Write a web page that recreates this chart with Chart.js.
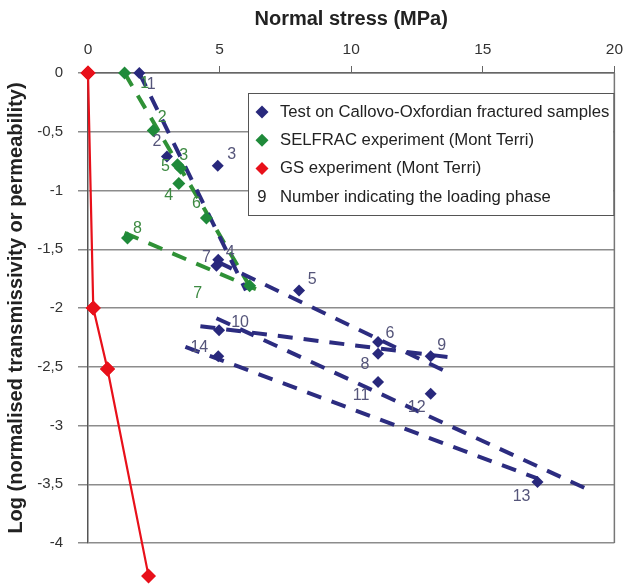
<!DOCTYPE html>
<html>
<head>
<meta charset="utf-8">
<script src="https://cdn.jsdelivr.net/npm/chart.js@4.4.1/dist/chart.umd.min.js"></script>
<style>
  html, body { margin: 0; padding: 0; background: #fff; }
  #wrap { width: 630px; height: 585px; }
</style>
</head>
<body>
<div id="wrap"><canvas id="stressChart" width="630" height="585"></canvas></div>
<script>
// Normal stress (MPa) vs log of normalised transmissivity / permeability

// Callovo-Oxfordian fractured samples
const bluePhases = ['1', '2', '3', '4', '7', '5', '6', '8', '9', '10', '11', '12', '13', '14'];
const blueStress = [1.95, 3.0, 4.93, 4.95, 4.88, 8.02, 11.02, 11.02, 13.02, 4.98, 11.02, 13.02, 17.08, 4.95];
const blueLogK = [0, -0.71, -0.79, -1.59, -1.64, -1.85, -2.29, -2.39, -2.41, -2.19, -2.63, -2.73, -3.48, -2.41];

// SELFRAC experiment (Mont Terri)
const greenPhases = ['1', '2', '3', '5', '4', '6', '8', '7'];
const greenStress = [1.39, 2.48, 3.52, 3.4, 3.45, 4.5, 1.5, 6.14];
const greenLogK = [0, -0.49, -0.81, -0.78, -0.94, -1.235, -1.405, -1.81];

// GS experiment (Mont Terri)
const redStress = [0, 0.2, 0.74, 2.3];
const redLogK = [0, -2, -2.52, -4.28];

// dashed trends per loading phase: [start, end] as [stress, logK]
const blueTrends = [
  [[1.95, 0], [6.0, -1.85]],
  [[4.95, -1.61], [13.5, -2.53]],
  [[4.27, -2.155], [13.77, -2.42]],
  [[4.88, -2.087], [18.95, -3.54]],
  [[3.7, -2.33], [17.07, -3.45]]
];
const greenTrends = [
  [[1.39, 0], [6.34, -1.89]],
  [[1.39, -1.36], [6.38, -1.84]]
];

const xTicks = [0, 5, 10, 15, 20];

// label offsets in px, same order as the phase arrays
const blueLabelOffsets = [[12, 12], [-10, -15], [14, -11], [12, -7], [-10, -8], [13, -11], [12, -8],
  [-13, 11], [11, -11], [21, -8], [-17, 14], [-14, 14], [-16, 15], [-19, -9]];
const greenLabelOffsets = [[20, 11], [9, -13], [3, -13], [-12, 2], [-10, 12], [-10, -15], [10, -9], [-52, 8]];

const BLUE = '#28287c';
const GREEN = '#1f8a3a';
const RED = '#e8101a';
const FONT = '"Liberation Sans", Arial, sans-serif';

const toPoints = (xs, ys) => xs.map((x, i) => ({ x: x, y: ys[i] }));

function trendDataset(seg, color) {
  return {
    data: seg.map(p => ({ x: p[0], y: p[1] })),
    showLine: true,
    borderColor: color,
    borderWidth: 4,
    borderDash: [15, 11],
    borderCapStyle: 'butt',
    pointRadius: 0,
    clip: false,
    order: 5
  };
}

// number labels next to each point; also points that fall below the axis range
const phaseLabels = {
  id: 'phaseLabels',
  afterDatasetsDraw(chart) {
    const ctx = chart.ctx;
    const whole = { left: 0, top: 0, right: chart.width, bottom: chart.height };
    chart.data.datasets.forEach((ds, i) => {
      const meta = chart.getDatasetMeta(i);
      if (ds.overflowPoints) {
        meta.data.forEach(pt => pt.draw(ctx, whole));
      }
      if (!ds.phases) return;
      ctx.save();
      ctx.font = '16px ' + FONT;
      ctx.fillStyle = ds.labelColor;
      ctx.textAlign = 'center';
      ctx.textBaseline = 'middle';
      meta.data.forEach((pt, j) => {
        const off = ds.labelOffsets[j];
        ctx.fillText(ds.phases[j], pt.x + off[0], pt.y + off[1]);
      });
      ctx.restore();
    });
  }
};

function diamond(ctx, x, y, r, color) {
  ctx.beginPath();
  ctx.moveTo(x, y - r);
  ctx.lineTo(x + r, y);
  ctx.lineTo(x, y + r);
  ctx.lineTo(x - r, y);
  ctx.closePath();
  ctx.fillStyle = color;
  ctx.fill();
}

// boxed legend inside the plot + right frame line
const boxLegend = {
  id: 'boxLegend',
  afterDraw(chart) {
    const ctx = chart.ctx;
    const a = chart.chartArea;
    ctx.save();
    ctx.strokeStyle = '#777';
    ctx.lineWidth = 1.5;
    ctx.beginPath();
    ctx.moveTo(a.right, a.top);
    ctx.lineTo(a.right, a.bottom);
    ctx.stroke();

    const left = a.left + 160, top = a.top + 20;
    const w = a.right - left - 1, h = 122;
    ctx.fillStyle = '#fff';
    ctx.fillRect(left, top, w, h);
    ctx.strokeStyle = '#555';
    ctx.lineWidth = 1;
    ctx.strokeRect(left + 0.5, top + 0.5, w, h);

    const items = [
      { color: BLUE, text: 'Test on Callovo-Oxfordian fractured samples' },
      { color: GREEN, text: 'SELFRAC experiment (Mont Terri)' },
      { color: RED, text: 'GS experiment (Mont Terri)' },
      { glyph: '9', text: 'Number indicating the loading phase' }
    ];
    ctx.font = '16.7px ' + FONT;
    ctx.textBaseline = 'middle';
    items.forEach((it, i) => {
      const y = top + 19 + i * 28.3;
      const mx = left + 14;
      if (it.glyph) {
        ctx.fillStyle = '#222';
        ctx.textAlign = 'center';
        ctx.fillText(it.glyph, mx, y);
      } else {
        diamond(ctx, mx, y, 6.5, it.color);
      }
      ctx.fillStyle = '#222';
      ctx.textAlign = 'left';
      ctx.fillText(it.text, left + 32, y);
    });
    ctx.restore();
  }
};

const datasets = [
  {
    data: toPoints(greenStress, greenLogK),
    showLine: false,
    pointStyle: 'rectRot',
    pointRadius: 6.5,
    backgroundColor: GREEN,
    borderColor: GREEN,
    borderWidth: 0,
    clip: false,
    order: 0,
    phases: greenPhases,
    labelOffsets: greenLabelOffsets,
    labelColor: '#3d8a42'
  },
  {
    data: toPoints(blueStress, blueLogK),
    showLine: false,
    pointStyle: 'rectRot',
    pointRadius: 6,
    backgroundColor: BLUE,
    borderColor: BLUE,
    borderWidth: 0,
    clip: false,
    order: 1,
    phases: bluePhases,
    labelOffsets: blueLabelOffsets,
    labelColor: '#55557a'
  },
  {
    data: toPoints(redStress, redLogK),
    showLine: true,
    borderColor: RED,
    borderWidth: 2.2,
    pointStyle: 'rectRot',
    pointRadius: 7.5,
    pointBackgroundColor: RED,
    pointBorderColor: RED,
    pointBorderWidth: 0,
    clip: false,
    order: 2,
    overflowPoints: true
  }
];
blueTrends.forEach(seg => datasets.push(trendDataset(seg, '#2c2c80')));
greenTrends.forEach(seg => datasets.push(trendDataset(seg, '#2f9136')));

new Chart(document.getElementById('stressChart'), {
  type: 'scatter',
  data: { datasets: datasets },
  options: {
    responsive: false,
    animation: false,
    layout: { padding: { right: 9, bottom: 42 } },
    plugins: {
      legend: { display: false },
      tooltip: { enabled: false }
    },
    scales: {
      x: {
        type: 'linear',
        position: 'top',
        min: 0,
        max: 20,
        afterFit: s => { s.height = 73; },
        afterBuildTicks: s => { s.ticks = xTicks.map(v => ({ value: v })); },
        ticks: { color: '#333', font: { family: FONT, size: 15.5 }, padding: 7 },
        grid: { drawOnChartArea: false, drawTicks: true, tickLength: 7, color: '#666' },
        border: { display: true, color: '#666', width: 1.5 },
        title: {
          display: true,
          text: 'Normal stress (MPa)',
          color: '#222',
          font: { family: FONT, size: 20, weight: 'bold' },
          padding: { top: 7, bottom: 0 }
        }
      },
      y: {
        type: 'linear',
        min: -4,
        max: 0,
        afterFit: s => { s.width = 88; },
        ticks: {
          stepSize: 0.5,
          color: '#333',
          font: { family: FONT, size: 15 },
          padding: 15,
          callback: v => String(v).replace('.', ',')
        },
        grid: { color: '#8c8c8c', lineWidth: 1.5, tickLength: 10 },
        border: { display: true, color: '#555', width: 1.5 },
        title: {
          display: true,
          text: 'Log (normalised transmissivity or permeability)',
          color: '#222',
          font: { family: FONT, size: 20, weight: 'bold' },
          padding: { top: 4, bottom: 0 }
        }
      }
    }
  },
  plugins: [phaseLabels, boxLegend]
});
</script>
</body>
</html>
